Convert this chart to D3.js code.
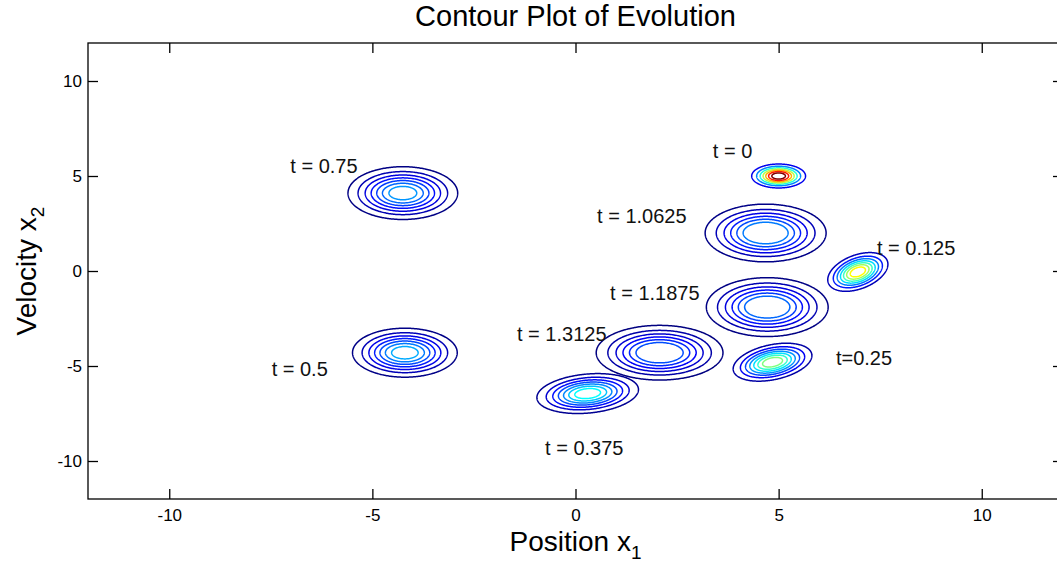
<!DOCTYPE html>
<html>
<head>
<meta charset="utf-8">
<script src="https://cdn.jsdelivr.net/npm/d3@7"></script>
<style>
  body { margin: 0; background: #fff; }
  svg { display: block; font-family: "Liberation Sans", Arial, sans-serif; }
</style>
</head>
<body>
<div id="chart"></div>
<script>
// axis ranges and ticks
const xDomain = [-12, 12];
const yDomain = [-12, 12];
const xTicks = [-10, -5, 0, 5, 10];
const yTicks = [-10, -5, 0, 5, 10];

// one density blob per time step
const blobLabels = ["t = 0", "t = 0.125", "t=0.25", "t = 0.375", "t = 0.5", "t = 0.75", "t = 1.0625", "t = 1.1875", "t = 1.3125"];
const blobCx    = [5.0, 6.95, 4.85, 0.30, -4.20, -4.25, 4.68, 4.72, 2.07];
const blobCy    = [5.0, -0.05, -4.80, -6.45, -4.30, 4.10, 2.00, -1.90, -4.30];
const blobSx    = [0.325, 0.363, 0.475, 0.613, 0.632, 0.662, 0.730, 0.735, 0.765];
const blobSy    = [0.309, 0.500, 0.490, 0.515, 0.632, 0.681, 0.745, 0.760, 0.706];
const blobRho   = [0, 0.4, 0.35, 0.2, 0, 0, 0, 0, 0];
const blobPeak  = [1.0, 0.64, 0.52, 0.40, 0.32, 0.30, 0.32, 0.30, 0.27];
const blobRings = [7, 7, 7, 7, 7, 7, 6, 6, 6];

// where each time label sits (data coords, left edge / baseline)
const labelX = [3.38, 7.42, 6.41, -0.75, -7.48, -7.02, 0.53, 0.85, -1.44];
const labelY = [5.95, 0.86, -4.97, -9.69, -5.54, 5.17, 2.54, -1.50, -3.71];

const W = 1057, H = 567;
const margin = {top: 43, left: 88, bottom: 68, right: -6};
const plotW = W - margin.left - margin.right,
      plotH = H - margin.top - margin.bottom;

const x = d3.scaleLinear().domain(xDomain).range([margin.left, margin.left + plotW]);
const y = d3.scaleLinear().domain(yDomain).range([margin.top + plotH, margin.top]);

// MATLAB-like jet colormap
const jet = v => {
  const c = t => Math.max(0, Math.min(1, t));
  const r = c(1.5 - Math.abs(4 * v - 3)),
        g = c(1.5 - Math.abs(4 * v - 2)),
        b = c(1.5 - Math.abs(4 * v - 1));
  return d3.rgb(r * 255, g * 255, b * 255).toString();
};

// contour levels for each blob: k * peak / 8
const blobLevels = blobPeak.map((p, i) => d3.range(1, blobRings[i] + 1).map(k => k * p / 8));
const allLevels = blobLevels.flat();
const cmin = d3.min(allLevels), cmax = d3.max(allLevels);
const color = v => jet((v - cmin) / (cmax - cmin));

const svg = d3.select("#chart").append("svg")
  .attr("width", W).attr("height", H);

const plot = svg.append("g");

const n = 160;
blobLabels.forEach((lab, i) => {
  const sx = blobSx[i], sy = blobSy[i], rho = blobRho[i], P = blobPeak[i];
  const x0 = blobCx[i] - 3.2 * sx, x1 = blobCx[i] + 3.2 * sx;
  const y0 = blobCy[i] - 3.2 * sy, y1 = blobCy[i] + 3.2 * sy;
  const dx = (x1 - x0) / (n - 1), dy = (y1 - y0) / (n - 1);
  const values = new Float64Array(n * n);
  for (let j = 0; j < n; j++) {
    for (let k = 0; k < n; k++) {
      const u = (x0 + k * dx - blobCx[i]) / sx;
      const v = (y0 + j * dy - blobCy[i]) / sy;
      const q = (u * u - 2 * rho * u * v + v * v) / (1 - rho * rho);
      values[j * n + k] = P * Math.exp(-q / 2);
    }
  }
  const path = d3.geoPath(d3.geoTransform({
    point(px, py) {
      this.stream.point(x(x0 + (px - 0.5) * dx), y(y0 + (py - 0.5) * dy));
    }
  }));
  const contours = d3.contours().size([n, n]).thresholds(blobLevels[i])(values);
  plot.append("g").selectAll("path")
    .data(contours)
    .join("path")
      .attr("d", path)
      .attr("fill", "none")
      .attr("stroke", d => color(d.value))
      .attr("stroke-width", 1.5)
      .attr("stroke-linejoin", "round");
});

// time labels
svg.append("g").selectAll("text")
  .data(blobLabels)
  .join("text")
    .attr("x", (d, i) => x(labelX[i]))
    .attr("y", (d, i) => y(labelY[i]))
    .attr("font-size", 20)
    .attr("fill", "#111")
    .text(d => d);

// axes box, ticks pointing inward
const axisStyle = g => {
  g.attr("font-size", 17).attr("font-family", "Liberation Sans, Arial, sans-serif");
  g.select(".domain").remove();
  g.selectAll(".tick line").attr("stroke", "#000").attr("stroke-width", 1.3);
  g.selectAll(".tick text").attr("fill", "#000");
};
const tickFmt = d => String(d);

svg.append("g")
  .attr("transform", `translate(0,${margin.top + plotH})`)
  .call(d3.axisBottom(x).tickValues(xTicks).tickSize(-10).tickPadding(10).tickFormat(tickFmt))
  .call(axisStyle);
svg.append("g")
  .attr("transform", `translate(0,${margin.top})`)
  .call(d3.axisTop(x).tickValues(xTicks).tickSize(-10).tickFormat(""))
  .call(axisStyle);
svg.append("g")
  .attr("transform", `translate(${margin.left},0)`)
  .call(d3.axisLeft(y).tickValues(yTicks).tickSize(-10).tickPadding(6).tickFormat(tickFmt))
  .call(axisStyle);
svg.append("g")
  .attr("transform", `translate(${margin.left + plotW},0)`)
  .call(d3.axisRight(y).tickValues(yTicks).tickSize(-10).tickFormat(""))
  .call(axisStyle);

svg.append("rect")
  .attr("x", margin.left).attr("y", margin.top)
  .attr("width", plotW).attr("height", plotH)
  .attr("fill", "none").attr("stroke", "#000").attr("stroke-width", 1.3);

// title and axis labels
svg.append("text")
  .attr("x", x(0)).attr("y", 26)
  .attr("text-anchor", "middle")
  .attr("font-size", 29)
  .text("Contour Plot of Evolution");

const xl = svg.append("text")
  .attr("x", x(0)).attr("y", 551)
  .attr("text-anchor", "middle")
  .attr("font-size", 28);
xl.append("tspan").text("Position x");
xl.append("tspan").attr("font-size", 19).attr("dy", 8).text("1");

const yl = svg.append("text")
  .attr("transform", `translate(36,${y(0)}) rotate(-90)`)
  .attr("text-anchor", "middle")
  .attr("font-size", 28);
yl.append("tspan").text("Velocity x");
yl.append("tspan").attr("font-size", 19).attr("dy", 8).text("2");
</script>
</body>
</html>
